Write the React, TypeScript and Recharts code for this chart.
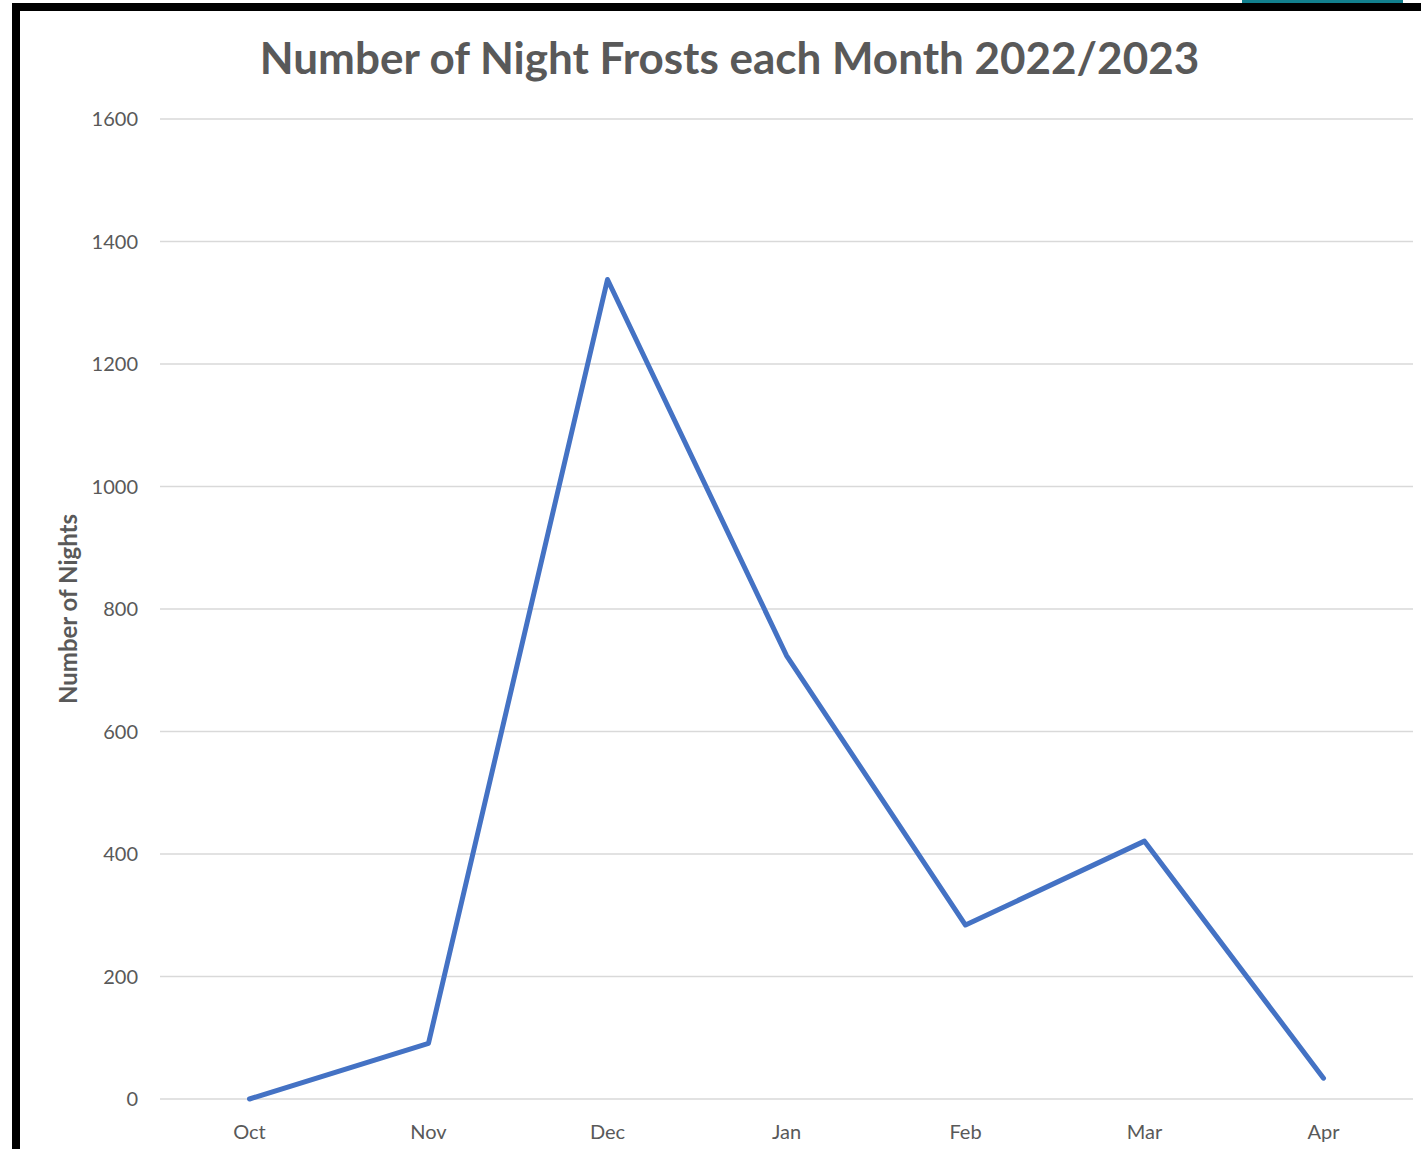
import React from "react";
import { LineChart, Line, XAxis, YAxis, CartesianGrid } from "recharts";

const months = ["Oct", "Nov", "Dec", "Jan", "Feb", "Mar", "Apr"];
const frostNights = [0, 91, 1338, 724, 284, 421, 34];
const yTicks = [0, 200, 400, 600, 800, 1000, 1200, 1400, 1600];

const data = months.map((m, i) => ({ month: m, nights: frostNights[i] }));

const textColor = "#595959";
const font = "Lato, 'Open Sans', sans-serif";

export default function App() {
  return (
    <div
      style={{
        position: "absolute",
        left: 0,
        top: 0,
        width: 1421,
        height: 1149,
        background: "#ffffff",
        overflow: "hidden",
        fontFamily: font,
      }}
    >
      {/* bit of a neighbouring element peeking in at the top */}
      <div
        style={{
          position: "absolute",
          left: 1242,
          top: 0,
          width: 161,
          height: 4,
          background: "#12808e",
        }}
      />
      {/* black frame on left and top */}
      <div
        style={{
          position: "absolute",
          left: 12,
          top: 3,
          width: 1421,
          height: 1149,
          borderLeft: "8px solid #000",
          borderTop: "8px solid #000",
          boxSizing: "border-box",
        }}
      />
      <div
        style={{
          position: "absolute",
          left: 0,
          top: 35,
          width: 1459,
          textAlign: "center",
          fontSize: 44,
          lineHeight: 1,
          fontWeight: 700,
          color: textColor,
          whiteSpace: "nowrap",
        }}
      >
        Number of Night Frosts each Month 2022/2023
      </div>
      <div style={{ position: "absolute", left: 0, top: 0 }}>
        <LineChart
          width={1421}
          height={1149}
          data={data}
          margin={{ top: 119, right: 8, bottom: 20, left: 0 }}
        >
          <CartesianGrid stroke="#d9d9d9" strokeWidth={1.5} vertical={false} />
          <XAxis
            dataKey="month"
            padding={{ left: 89.5, right: 89.5 }}
            axisLine={false}
            tickLine={false}
            tickMargin={20}
            height={30}
            tick={{ fill: textColor, fontSize: 20, fontFamily: font }}
          />
          <YAxis
            width={160}
            domain={[0, 1600]}
            ticks={yTicks}
            axisLine={false}
            tickLine={false}
            tickMargin={16}
            tick={{ fill: textColor, fontSize: 20, fontFamily: font }}
            label={{
              value: "Number of Nights",
              angle: -90,
              position: "center",
              dx: -12,
              fill: textColor,
              fontSize: 24,
              fontWeight: 700,
              fontFamily: font,
            }}
          />
          <Line
            type="linear"
            dataKey="nights"
            stroke="#4472c4"
            strokeWidth={5}
            strokeLinecap="round"
            strokeLinejoin="round"
            dot={false}
            activeDot={false}
            isAnimationActive={false}
          />
        </LineChart>
      </div>
    </div>
  );
}
